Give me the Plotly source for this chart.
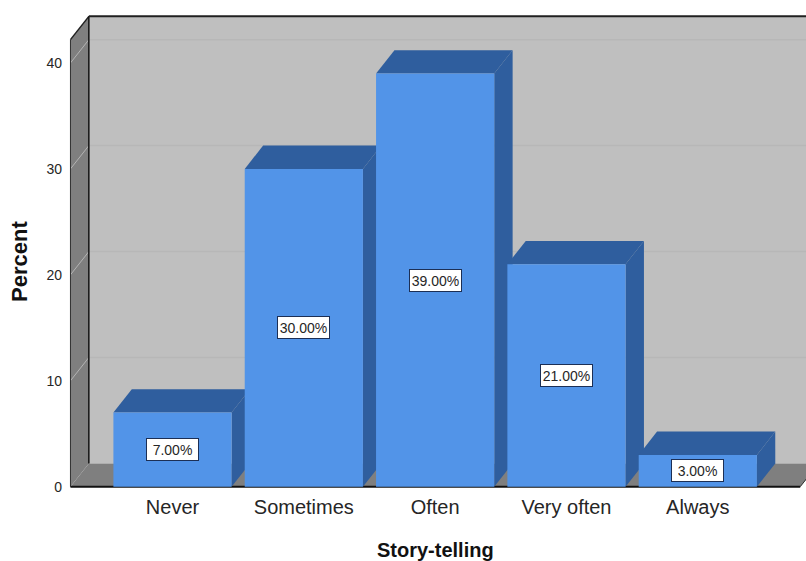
import plotly.graph_objects as go

categories = ["Never", "Sometimes", "Often", "Very often", "Always"]
percents = [7, 30, 39, 21, 3]
y_ticks = [0, 10, 20, 30, 40]

FONT = "Liberation Sans, Arial, sans-serif"
BAR_FRONT = "#5294e8"
BAR_DEPTH = "#2f5e9e"
WALL = "#bfbfbf"
FLOOR = "#7f7f7f"
INK = "#262626"

PAGE_W, PAGE_H = 806, 561
L, R, T, B = 66, 0, 10, 69

BAR_WIDTH = 0.9
DEPTH_X = 0.14      # oblique depth, in category units
DEPTH_Y = 2.2       # oblique depth, in percent units
LEFT = -0.777
RIGHT = 4.78
TOP = 42.2


def poly(points, fill):
    path = "M " + " L ".join(f"{x} {y}" for x, y in points) + " Z"
    return dict(type="path", path=path, xref="x", yref="y", layer="below",
                fillcolor=fill, line=dict(width=0))


def segment(x0, y0, x1, y1, color, width):
    return dict(type="line", x0=x0, y0=y0, x1=x1, y1=y1, xref="x", yref="y",
                layer="below", line=dict(color=color, width=width))


def page_title(px, py, text, size, angle=0):
    # Paper coordinates span the plot area, so convert from page pixels
    return dict(x=(px - L) / (PAGE_W - L - R), y=(PAGE_H - B - py) / (PAGE_H - T - B),
                xref="paper", yref="paper", xanchor="center", yanchor="middle",
                text=f"<b>{text}</b>", textangle=angle, showarrow=False,
                font=dict(family=FONT, size=size, color="#111111"))


backL, backR = LEFT + DEPTH_X, RIGHT + DEPTH_X

# Box walls and floor
shapes = [
    poly([(backL, DEPTH_Y), (backR, DEPTH_Y), (backR, TOP + DEPTH_Y), (backL, TOP + DEPTH_Y)], WALL),
    poly([(LEFT, 0), (backL, DEPTH_Y), (backL, TOP + DEPTH_Y), (LEFT, TOP)], FLOOR),
    poly([(LEFT, 0), (RIGHT, 0), (backR, DEPTH_Y), (backL, DEPTH_Y)], FLOOR),
]

# Gridlines wrap from the left wall onto the back wall
for t in y_ticks[1:]:
    shapes.append(segment(LEFT, t, backL, t + DEPTH_Y, "#b4b4b4", 1))
    shapes.append(segment(backL, t + DEPTH_Y, backR, t + DEPTH_Y, "#b7b7b7", 1.5))

# Box outline
shapes += [
    segment(LEFT, 0, LEFT, TOP, "#303030", 1),
    segment(LEFT, TOP, backL, TOP + DEPTH_Y, "#202020", 1.5),
    segment(backL, DEPTH_Y, backL, TOP + DEPTH_Y, "#111111", 1.5),
    segment(backL, TOP + DEPTH_Y, backR, TOP + DEPTH_Y, "#202020", 2),
    segment(LEFT, 0, RIGHT, 0, "#111111", 2),
    segment(RIGHT, 0, backR, DEPTH_Y, "#303030", 1),
]

# Side and top faces of each bar, left to right
for i, v in enumerate(percents):
    x0, x1 = i - BAR_WIDTH / 2, i + BAR_WIDTH / 2
    shapes.append(poly([(x1, 0), (x1 + DEPTH_X, DEPTH_Y), (x1 + DEPTH_X, v + DEPTH_Y), (x1, v)], BAR_DEPTH))
    shapes.append(poly([(x0, v), (x1, v), (x1 + DEPTH_X, v + DEPTH_Y), (x0 + DEPTH_X, v + DEPTH_Y)], BAR_DEPTH))

annotations = [
    dict(x=i, y=v / 2, xref="x", yref="y", text=f"{v:.2f}%", showarrow=False,
         font=dict(family=FONT, size=14, color=INK), bgcolor="white",
         bordercolor="#1c2f55", borderwidth=1, width=51, height=21, borderpad=0)
    for i, v in enumerate(percents)
]
annotations += [
    page_title(435, 550, "Story-telling", 20),
    page_title(19, 262, "Percent", 22, angle=-90),
]

fig = go.Figure(go.Bar(x=list(range(len(categories))), y=percents, width=BAR_WIDTH,
                       marker=dict(color=BAR_FRONT, line=dict(width=0)), hoverinfo="skip"))

fig.update_layout(
    width=PAGE_W, height=PAGE_H, autosize=False, showlegend=False,
    margin=dict(l=L, r=R, t=T, b=B),
    paper_bgcolor="white", plot_bgcolor="white",
    shapes=shapes, annotations=annotations,
    xaxis=dict(range=[-0.811, 4.824], tickvals=list(range(len(categories))), ticktext=categories,
               showgrid=False, zeroline=False, showline=False, ticks="", ticklabelstandoff=1,
               tickfont=dict(family=FONT, size=20, color=INK)),
    yaxis=dict(range=[-0.5, 45], tickvals=y_ticks, showgrid=False, zeroline=False, showline=False,
               ticks="", ticklabelstandoff=3, tickfont=dict(family=FONT, size=14, color=INK)),
)

fig.write_html("out.html")
